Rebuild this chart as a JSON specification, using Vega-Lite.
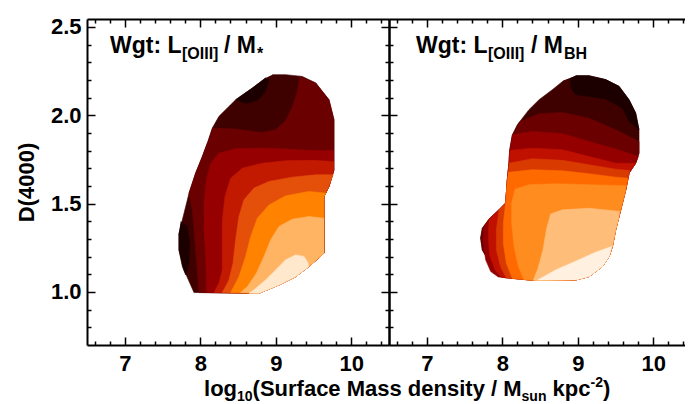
{
"$schema":"https://vega.github.io/schema/vega-lite/v6.json",
"padding":{"left":15,"top":15,"right":0,"bottom":0},
"background":"white",
"bounds":"flush",
"spacing":0,
"config":{"view":{"stroke":null},"axis":{"labelFont":"Liberation Sans","labelFontWeight":"bold","labelFontSize":22,"labelColor":"black","titleFont":"Liberation Sans","titleFontWeight":"bold","titleFontSize":22,"titleColor":"black","grid":false,"tickColor":"black","tickWidth":1.5,"domainColor":"black","domainWidth":2,"labelFlush":false,"labelOverlap":false}},
"resolve":{"scale":{"x":"independent","y":"independent","fill":"independent","stroke":"independent"}},
"hconcat":[
{
"width":302,"height":326,
"resolve":{"axis":{"x":"independent","y":"independent"}},
"layer":[
{"data":{"values":[
{"p":0,"x":8.955,"y":2.230},{"p":0,"x":9.131,"y":2.230},{"p":0,"x":9.352,"y":2.220},{"p":0,"x":9.529,"y":2.183},{"p":0,"x":9.705,"y":2.088},{"p":0,"x":9.771,"y":1.975},{"p":0,"x":9.771,"y":1.824},{"p":0,"x":9.771,"y":1.692},{"p":0,"x":9.705,"y":1.597},{"p":0,"x":9.639,"y":1.541},{"p":0,"x":9.639,"y":1.220},{"p":0,"x":9.440,"y":1.144},{"p":0,"x":9.264,"y":1.087},{"p":0,"x":9.043,"y":1.040},{"p":0,"x":8.778,"y":0.993},{"p":0,"x":7.917,"y":0.997},{"p":0,"x":7.785,"y":1.125},{"p":0,"x":7.718,"y":1.238},{"p":0,"x":7.718,"y":1.333},{"p":0,"x":7.785,"y":1.446},{"p":0,"x":7.851,"y":1.559},{"p":0,"x":7.939,"y":1.673},{"p":0,"x":8.028,"y":1.767},{"p":0,"x":8.094,"y":1.843},{"p":0,"x":8.160,"y":1.928},{"p":0,"x":8.248,"y":1.994},{"p":0,"x":8.469,"y":2.088},{"p":0,"x":8.690,"y":2.154},{"p":0,"x":8.866,"y":2.211},
{"p":1,"x":8.469,"y":2.088},{"p":1,"x":8.690,"y":2.154},{"p":1,"x":8.866,"y":2.211},{"p":1,"x":8.911,"y":2.202},{"p":1,"x":8.866,"y":2.135},{"p":1,"x":8.756,"y":2.084},{"p":1,"x":8.601,"y":2.066},
{"p":2,"x":7.741,"y":1.399},{"p":2,"x":7.829,"y":1.371},{"p":2,"x":7.860,"y":1.276},{"p":2,"x":7.851,"y":1.163},{"p":2,"x":7.807,"y":1.097},{"p":2,"x":7.763,"y":1.144},{"p":2,"x":7.718,"y":1.238},{"p":2,"x":7.718,"y":1.333},
{"p":3,"x":8.160,"y":1.928},{"p":3,"x":8.469,"y":1.922},{"p":3,"x":8.822,"y":1.903},{"p":3,"x":8.999,"y":1.918},{"p":3,"x":9.131,"y":1.971},{"p":3,"x":9.220,"y":2.050},{"p":3,"x":9.286,"y":2.135},{"p":3,"x":9.317,"y":2.220},{"p":3,"x":9.529,"y":2.183},{"p":3,"x":9.705,"y":2.088},{"p":3,"x":9.771,"y":1.975},{"p":3,"x":9.771,"y":1.824},{"p":3,"x":9.771,"y":1.692},{"p":3,"x":9.705,"y":1.597},{"p":3,"x":9.639,"y":1.541},{"p":3,"x":9.639,"y":1.220},{"p":3,"x":9.440,"y":1.144},{"p":3,"x":9.264,"y":1.087},{"p":3,"x":9.043,"y":1.040},{"p":3,"x":8.778,"y":0.993},{"p":3,"x":7.983,"y":0.997},{"p":3,"x":7.961,"y":1.125},{"p":3,"x":7.939,"y":1.238},{"p":3,"x":7.917,"y":1.352},{"p":3,"x":7.895,"y":1.465},{"p":3,"x":7.851,"y":1.559},{"p":3,"x":7.939,"y":1.673},{"p":3,"x":8.028,"y":1.767},{"p":3,"x":8.094,"y":1.843},
{"p":4,"x":9.771,"y":1.801},{"p":4,"x":9.484,"y":1.801},{"p":4,"x":9.131,"y":1.809},{"p":4,"x":8.822,"y":1.814},{"p":4,"x":8.469,"y":1.811},{"p":4,"x":8.248,"y":1.786},{"p":4,"x":8.138,"y":1.729},{"p":4,"x":8.081,"y":1.635},{"p":4,"x":8.050,"y":1.503},{"p":4,"x":8.050,"y":1.352},{"p":4,"x":8.072,"y":1.201},{"p":4,"x":8.081,"y":1.087},{"p":4,"x":8.081,"y":0.997},{"p":4,"x":8.778,"y":0.993},{"p":4,"x":9.043,"y":1.040},{"p":4,"x":9.264,"y":1.087},{"p":4,"x":9.440,"y":1.144},{"p":4,"x":9.639,"y":1.220},{"p":4,"x":9.639,"y":1.541},{"p":4,"x":9.705,"y":1.597},{"p":4,"x":9.771,"y":1.692},
{"p":5,"x":9.771,"y":1.739},{"p":5,"x":9.484,"y":1.745},{"p":5,"x":9.131,"y":1.743},{"p":5,"x":8.822,"y":1.729},{"p":5,"x":8.557,"y":1.701},{"p":5,"x":8.403,"y":1.644},{"p":5,"x":8.328,"y":1.541},{"p":5,"x":8.292,"y":1.408},{"p":5,"x":8.292,"y":1.257},{"p":5,"x":8.292,"y":1.125},{"p":5,"x":8.248,"y":1.050},{"p":5,"x":8.182,"y":0.997},{"p":5,"x":8.778,"y":0.993},{"p":5,"x":9.043,"y":1.040},{"p":5,"x":9.264,"y":1.087},{"p":5,"x":9.440,"y":1.144},{"p":5,"x":9.639,"y":1.220},{"p":5,"x":9.639,"y":1.541},{"p":5,"x":9.705,"y":1.597},{"p":5,"x":9.771,"y":1.692},
{"p":6,"x":9.763,"y":1.663},{"p":6,"x":9.529,"y":1.663},{"p":6,"x":9.220,"y":1.650},{"p":6,"x":8.911,"y":1.626},{"p":6,"x":8.712,"y":1.588},{"p":6,"x":8.579,"y":1.522},{"p":6,"x":8.513,"y":1.427},{"p":6,"x":8.469,"y":1.295},{"p":6,"x":8.434,"y":1.163},{"p":6,"x":8.381,"y":1.068},{"p":6,"x":8.292,"y":0.997},{"p":6,"x":8.778,"y":0.993},{"p":6,"x":9.043,"y":1.040},{"p":6,"x":9.264,"y":1.087},{"p":6,"x":9.440,"y":1.144},{"p":6,"x":9.639,"y":1.220},{"p":6,"x":9.639,"y":1.541},{"p":6,"x":9.705,"y":1.597},
{"p":7,"x":9.670,"y":1.559},{"p":7,"x":9.440,"y":1.569},{"p":7,"x":9.131,"y":1.544},{"p":7,"x":8.911,"y":1.493},{"p":7,"x":8.756,"y":1.418},{"p":7,"x":8.668,"y":1.314},{"p":7,"x":8.601,"y":1.201},{"p":7,"x":8.513,"y":1.087},{"p":7,"x":8.403,"y":0.997},{"p":7,"x":8.778,"y":0.993},{"p":7,"x":9.043,"y":1.040},{"p":7,"x":9.264,"y":1.087},{"p":7,"x":9.440,"y":1.144},{"p":7,"x":9.639,"y":1.220},{"p":7,"x":9.639,"y":1.541},
{"p":8,"x":9.639,"y":1.418},{"p":8,"x":9.440,"y":1.427},{"p":8,"x":9.220,"y":1.412},{"p":8,"x":9.043,"y":1.371},{"p":8,"x":8.933,"y":1.295},{"p":8,"x":8.844,"y":1.201},{"p":8,"x":8.743,"y":1.106},{"p":8,"x":8.624,"y":1.031},{"p":8,"x":8.535,"y":0.997},{"p":8,"x":8.778,"y":0.993},{"p":8,"x":9.043,"y":1.040},{"p":8,"x":9.264,"y":1.087},{"p":8,"x":9.440,"y":1.144},{"p":8,"x":9.639,"y":1.220},
{"p":9,"x":9.431,"y":1.163},{"p":9,"x":9.374,"y":1.201},{"p":9,"x":9.264,"y":1.210},{"p":9,"x":9.131,"y":1.182},{"p":9,"x":8.999,"y":1.125},{"p":9,"x":8.866,"y":1.068},{"p":9,"x":8.712,"y":1.012},{"p":9,"x":8.646,"y":0.993},{"p":9,"x":8.778,"y":0.993},{"p":9,"x":9.043,"y":1.040},{"p":9,"x":9.264,"y":1.087},{"p":9,"x":9.440,"y":1.144}
]},
"mark":{"type":"line","strokeWidth":0.6,"interpolate":"linear"},
"encoding":{
"x":{"field":"x","type":"quantitative","scale":{"domain":[6.5,10.5],"nice":false,"zero":false},"axis":{"orient":"bottom","values":[7,8,9,10],"ticks":false,"domain":true,"labelPadding":8,"title":null}},
"y":{"field":"y","type":"quantitative","scale":{"domain":[0.7,2.545],"nice":false,"zero":false},"axis":{"orient":"left","values":[1,1.5,2,2.5],"format":".1f","ticks":false,"domain":true,"labelPadding":6,"title":"D(4000)","titlePadding":12}},
"fill":{"field":"p","type":"nominal","scale":{"domain":[0,1,2,3,4,5,6,7,8,9],"range":["#3f0000","#1c0000","#1c0000","#6a0000","#960000","#c21a00","#e4500a","#ff8200","#ffb464","#ffe8cc"]},"legend":null},
"stroke":{"field":"p","type":"nominal","scale":{"domain":[0,1,2,3,4,5,6,7,8,9],"range":["#3f0000","#1c0000","#1c0000","#6a0000","#960000","#c21a00","#e4500a","#ff8200","#ffb464","#ffe8cc"]},"legend":null},
"detail":{"field":"p"},
"order":{"value":null}
}},
{"data":{"values":[{"x":8,"y":1.5}]},"mark":{"type":"point","opacity":0},
"encoding":{"x":{"field":"x","type":"quantitative","axis":{"orient":"bottom","values":[7,8,9,10],"labels":false,"domain":false,"tickSize":-8,"title":null}},
"y":{"field":"y","type":"quantitative","axis":{"orient":"left","values":[1,1.5,2,2.5],"labels":false,"domain":false,"tickSize":-8,"title":null}}}},
{"data":{"values":[{"x":8,"y":1.5}]},"mark":{"type":"point","opacity":0},
"encoding":{"x":{"field":"x","type":"quantitative","axis":{"orient":"bottom","values":[6.6,6.8,7.2,7.4,7.6,7.8,8.2,8.4,8.6,8.8,9.2,9.4,9.6,9.8,10.2,10.4],"labels":false,"domain":false,"tickSize":-4,"title":null}},
"y":{"field":"y","type":"quantitative","axis":{"orient":"left","values":[0.8,0.9,1.1,1.2,1.3,1.4,1.6,1.7,1.8,1.9,2.1,2.2,2.3,2.4],"labels":false,"domain":false,"tickSize":-4,"title":null}}}},
{"data":{"values":[{"x":8,"y":1.5}]},"mark":{"type":"point","opacity":0},
"encoding":{"x":{"field":"x","type":"quantitative","axis":{"orient":"top","values":[7,8,9,10],"labels":false,"domain":true,"tickSize":-8,"title":null}},
"y":{"field":"y","type":"quantitative","axis":{"orient":"right","values":[1,1.5,2,2.5],"labels":false,"domain":true,"tickSize":-8,"title":null}}}},
{"data":{"values":[{"x":8,"y":1.5}]},"mark":{"type":"point","opacity":0},
"encoding":{"x":{"field":"x","type":"quantitative","axis":{"orient":"top","values":[6.6,6.8,7.2,7.4,7.6,7.8,8.2,8.4,8.6,8.8,9.2,9.4,9.6,9.8,10.2,10.4],"labels":false,"domain":false,"tickSize":-4,"title":null}},
"y":{"field":"y","type":"quantitative","axis":{"orient":"right","values":[0.8,0.9,1.1,1.2,1.3,1.4,1.6,1.7,1.8,1.9,2.1,2.2,2.3,2.4],"labels":false,"domain":false,"tickSize":-4,"title":null}}}},
{"data":{"values":[{"t":"Wgt: L","x":6.805,"y":2.352},{"t":"/ M","x":8.315,"y":2.352}]},
"mark":{"type":"text","align":"left","baseline":"alphabetic","font":"Liberation Sans","fontWeight":"bold","fontSize":23,"color":"black"},
"encoding":{"x":{"field":"x","type":"quantitative","axis":null},"y":{"field":"y","type":"quantitative","axis":null},"text":{"field":"t"}}},
{"data":{"values":[{"t":"[OIII]","x":7.758,"y":2.32},{"t":"*","x":8.752,"y":2.32}]},
"mark":{"type":"text","align":"left","baseline":"alphabetic","font":"Liberation Sans","fontWeight":"bold","fontSize":16,"color":"black"},
"encoding":{"x":{"field":"x","type":"quantitative","axis":null},"y":{"field":"y","type":"quantitative","axis":null},"text":{"field":"t"}}},
{"data":{"values":[{"t":"log","x":8.050,"y":0.409},{"t":"(Surface Mass density / M","x":8.693,"y":0.409},{"t":"kpc","x":12.667,"y":0.409},{"t":")","x":13.333,"y":0.409}]},
"mark":{"type":"text","align":"left","baseline":"alphabetic","font":"Liberation Sans","fontWeight":"bold","fontSize":22,"color":"black"},
"encoding":{"x":{"field":"x","type":"quantitative","axis":null},"y":{"field":"y","type":"quantitative","axis":null},"text":{"field":"t"}}},
{"data":{"values":[{"t":"10","x":8.487,"y":0.381},{"t":"sun","x":12.256,"y":0.381},{"t":"-2","x":13.169,"y":0.460}]},
"mark":{"type":"text","align":"left","baseline":"alphabetic","font":"Liberation Sans","fontWeight":"bold","fontSize":14,"color":"black"},
"encoding":{"x":{"field":"x","type":"quantitative","axis":null},"y":{"field":"y","type":"quantitative","axis":null},"text":{"field":"t"}}}
]
},
{
"width":296,"height":326,
"resolve":{"axis":{"x":"independent","y":"independent"}},
"layer":[
{"data":{"values":[
{"p":0,"x":8.972,"y":2.224},{"p":0,"x":9.149,"y":2.224},{"p":0,"x":9.370,"y":2.202},{"p":0,"x":9.546,"y":2.164},{"p":0,"x":9.679,"y":2.088},{"p":0,"x":9.767,"y":2.013},{"p":0,"x":9.811,"y":1.918},{"p":0,"x":9.811,"y":1.786},{"p":0,"x":9.767,"y":1.729},{"p":0,"x":9.679,"y":1.673},{"p":0,"x":9.635,"y":1.578},{"p":0,"x":9.591,"y":1.503},{"p":0,"x":9.546,"y":1.427},{"p":0,"x":9.502,"y":1.352},{"p":0,"x":9.458,"y":1.257},{"p":0,"x":9.414,"y":1.201},{"p":0,"x":9.326,"y":1.144},{"p":0,"x":9.149,"y":1.087},{"p":0,"x":8.972,"y":1.068},{"p":0,"x":8.443,"y":1.065},{"p":0,"x":8.001,"y":1.083},{"p":0,"x":7.913,"y":1.106},{"p":0,"x":7.825,"y":1.172},{"p":0,"x":7.736,"y":1.238},{"p":0,"x":7.714,"y":1.305},{"p":0,"x":7.736,"y":1.361},{"p":0,"x":7.825,"y":1.412},{"p":0,"x":7.957,"y":1.465},{"p":0,"x":8.045,"y":1.503},{"p":0,"x":8.067,"y":1.635},{"p":0,"x":8.089,"y":1.729},{"p":0,"x":8.098,"y":1.801},{"p":0,"x":8.134,"y":1.890},{"p":0,"x":8.200,"y":1.947},{"p":0,"x":8.354,"y":2.032},{"p":0,"x":8.487,"y":2.088},{"p":0,"x":8.663,"y":2.145},{"p":0,"x":8.818,"y":2.198},
{"p":1,"x":8.972,"y":2.224},{"p":1,"x":9.149,"y":2.224},{"p":1,"x":9.370,"y":2.202},{"p":1,"x":9.546,"y":2.164},{"p":1,"x":9.679,"y":2.088},{"p":1,"x":9.767,"y":2.013},{"p":1,"x":9.811,"y":1.918},{"p":1,"x":9.679,"y":1.966},{"p":1,"x":9.591,"y":2.041},{"p":1,"x":9.370,"y":2.092},{"p":1,"x":9.149,"y":2.107},{"p":1,"x":8.972,"y":2.117},{"p":1,"x":8.906,"y":2.154},{"p":1,"x":8.906,"y":2.211},
{"p":2,"x":8.222,"y":1.960},{"p":2,"x":8.487,"y":2.009},{"p":2,"x":8.796,"y":2.016},{"p":2,"x":9.149,"y":1.984},{"p":2,"x":9.502,"y":1.918},{"p":2,"x":9.811,"y":1.852},{"p":2,"x":9.811,"y":1.786},{"p":2,"x":9.767,"y":1.729},{"p":2,"x":9.679,"y":1.673},{"p":2,"x":9.635,"y":1.578},{"p":2,"x":9.591,"y":1.503},{"p":2,"x":9.546,"y":1.427},{"p":2,"x":9.502,"y":1.352},{"p":2,"x":9.458,"y":1.257},{"p":2,"x":9.414,"y":1.201},{"p":2,"x":9.326,"y":1.144},{"p":2,"x":9.149,"y":1.087},{"p":2,"x":8.972,"y":1.068},{"p":2,"x":8.443,"y":1.065},{"p":2,"x":8.001,"y":1.083},{"p":2,"x":7.913,"y":1.106},{"p":2,"x":7.825,"y":1.172},{"p":2,"x":7.736,"y":1.238},{"p":2,"x":7.714,"y":1.305},{"p":2,"x":7.736,"y":1.361},{"p":2,"x":7.825,"y":1.412},{"p":2,"x":7.957,"y":1.465},{"p":2,"x":8.045,"y":1.503},{"p":2,"x":8.067,"y":1.635},{"p":2,"x":8.089,"y":1.729},{"p":2,"x":8.098,"y":1.801},{"p":2,"x":8.134,"y":1.890},
{"p":3,"x":8.134,"y":1.890},{"p":3,"x":8.398,"y":1.909},{"p":3,"x":8.796,"y":1.896},{"p":3,"x":9.149,"y":1.852},{"p":3,"x":9.502,"y":1.809},{"p":3,"x":9.802,"y":1.767},{"p":3,"x":9.767,"y":1.729},{"p":3,"x":9.679,"y":1.673},{"p":3,"x":9.635,"y":1.578},{"p":3,"x":9.591,"y":1.503},{"p":3,"x":9.546,"y":1.427},{"p":3,"x":9.502,"y":1.352},{"p":3,"x":9.458,"y":1.257},{"p":3,"x":9.414,"y":1.201},{"p":3,"x":9.326,"y":1.144},{"p":3,"x":9.149,"y":1.087},{"p":3,"x":8.972,"y":1.068},{"p":3,"x":8.443,"y":1.065},{"p":3,"x":8.001,"y":1.083},{"p":3,"x":7.948,"y":1.085},{"p":3,"x":7.847,"y":1.116},{"p":3,"x":7.780,"y":1.182},{"p":3,"x":7.749,"y":1.276},{"p":3,"x":7.758,"y":1.371},{"p":3,"x":7.825,"y":1.412},{"p":3,"x":7.957,"y":1.465},{"p":3,"x":8.045,"y":1.503},{"p":3,"x":8.067,"y":1.635},{"p":3,"x":8.089,"y":1.729},{"p":3,"x":8.098,"y":1.801},
{"p":4,"x":8.098,"y":1.801},{"p":4,"x":8.398,"y":1.814},{"p":4,"x":8.796,"y":1.805},{"p":4,"x":9.149,"y":1.767},{"p":4,"x":9.502,"y":1.729},{"p":4,"x":9.767,"y":1.729},{"p":4,"x":9.679,"y":1.673},{"p":4,"x":9.635,"y":1.578},{"p":4,"x":9.591,"y":1.503},{"p":4,"x":9.546,"y":1.427},{"p":4,"x":9.502,"y":1.352},{"p":4,"x":9.458,"y":1.257},{"p":4,"x":9.414,"y":1.201},{"p":4,"x":9.326,"y":1.144},{"p":4,"x":9.149,"y":1.087},{"p":4,"x":8.972,"y":1.068},{"p":4,"x":8.443,"y":1.065},{"p":4,"x":7.992,"y":1.083},{"p":4,"x":7.904,"y":1.125},{"p":4,"x":7.833,"y":1.210},{"p":4,"x":7.816,"y":1.314},{"p":4,"x":7.825,"y":1.412},{"p":4,"x":7.957,"y":1.465},{"p":4,"x":8.045,"y":1.503},{"p":4,"x":8.067,"y":1.635},{"p":4,"x":8.089,"y":1.729},
{"p":5,"x":8.089,"y":1.729},{"p":5,"x":8.398,"y":1.754},{"p":5,"x":8.796,"y":1.745},{"p":5,"x":9.149,"y":1.720},{"p":5,"x":9.502,"y":1.695},{"p":5,"x":9.688,"y":1.688},{"p":5,"x":9.635,"y":1.578},{"p":5,"x":9.591,"y":1.503},{"p":5,"x":9.546,"y":1.427},{"p":5,"x":9.502,"y":1.352},{"p":5,"x":9.458,"y":1.257},{"p":5,"x":9.414,"y":1.201},{"p":5,"x":9.326,"y":1.144},{"p":5,"x":9.149,"y":1.087},{"p":5,"x":8.972,"y":1.068},{"p":5,"x":8.443,"y":1.065},{"p":5,"x":8.054,"y":1.080},{"p":5,"x":7.979,"y":1.140},{"p":5,"x":7.922,"y":1.238},{"p":5,"x":7.922,"y":1.352},{"p":5,"x":7.957,"y":1.465},{"p":5,"x":8.045,"y":1.503},{"p":5,"x":8.067,"y":1.635},
{"p":6,"x":8.076,"y":1.677},{"p":6,"x":8.398,"y":1.692},{"p":6,"x":8.796,"y":1.686},{"p":6,"x":9.149,"y":1.669},{"p":6,"x":9.502,"y":1.650},{"p":6,"x":9.666,"y":1.644},{"p":6,"x":9.635,"y":1.578},{"p":6,"x":9.591,"y":1.503},{"p":6,"x":9.546,"y":1.427},{"p":6,"x":9.502,"y":1.352},{"p":6,"x":9.458,"y":1.257},{"p":6,"x":9.414,"y":1.201},{"p":6,"x":9.326,"y":1.144},{"p":6,"x":9.149,"y":1.087},{"p":6,"x":8.972,"y":1.068},{"p":6,"x":8.443,"y":1.065},{"p":6,"x":8.134,"y":1.076},{"p":6,"x":8.054,"y":1.163},{"p":6,"x":8.014,"y":1.276},{"p":6,"x":8.014,"y":1.389},{"p":6,"x":8.045,"y":1.503},{"p":6,"x":8.067,"y":1.635},
{"p":7,"x":9.643,"y":1.601},{"p":7,"x":9.149,"y":1.607},{"p":7,"x":8.708,"y":1.612},{"p":7,"x":8.354,"y":1.607},{"p":7,"x":8.169,"y":1.582},{"p":7,"x":8.125,"y":1.503},{"p":7,"x":8.125,"y":1.389},{"p":7,"x":8.156,"y":1.257},{"p":7,"x":8.213,"y":1.144},{"p":7,"x":8.288,"y":1.070},{"p":7,"x":8.443,"y":1.065},{"p":7,"x":8.972,"y":1.068},{"p":7,"x":9.149,"y":1.087},{"p":7,"x":9.326,"y":1.144},{"p":7,"x":9.414,"y":1.201},{"p":7,"x":9.458,"y":1.257},{"p":7,"x":9.502,"y":1.352},{"p":7,"x":9.546,"y":1.427},{"p":7,"x":9.591,"y":1.503},{"p":7,"x":9.635,"y":1.578},
{"p":8,"x":9.556,"y":1.456},{"p":8,"x":9.149,"y":1.474},{"p":8,"x":8.796,"y":1.465},{"p":8,"x":8.641,"y":1.442},{"p":8,"x":8.584,"y":1.352},{"p":8,"x":8.540,"y":1.238},{"p":8,"x":8.474,"y":1.135},{"p":8,"x":8.412,"y":1.068},{"p":8,"x":8.443,"y":1.065},{"p":8,"x":8.972,"y":1.068},{"p":8,"x":9.149,"y":1.087},{"p":8,"x":9.326,"y":1.144},{"p":8,"x":9.414,"y":1.201},{"p":8,"x":9.458,"y":1.257},{"p":8,"x":9.502,"y":1.352},{"p":8,"x":9.546,"y":1.427},
{"p":9,"x":8.465,"y":1.067},{"p":9,"x":8.708,"y":1.125},{"p":9,"x":8.972,"y":1.174},{"p":9,"x":9.237,"y":1.225},{"p":9,"x":9.449,"y":1.257},{"p":9,"x":9.414,"y":1.201},{"p":9,"x":9.326,"y":1.144},{"p":9,"x":9.149,"y":1.087},{"p":9,"x":8.972,"y":1.068}
]},
"mark":{"type":"line","strokeWidth":0.6,"interpolate":"linear"},
"encoding":{
"x":{"field":"x","type":"quantitative","scale":{"domain":[6.5,10.42],"nice":false,"zero":false},"axis":{"orient":"bottom","values":[7,8,9,10],"ticks":false,"domain":true,"labelPadding":8,"title":null}},
"y":{"field":"y","type":"quantitative","scale":{"domain":[0.7,2.545],"nice":false,"zero":false},"axis":{"orient":"left","values":[1,1.5,2,2.5],"labels":false,"domain":true,"tickSize":-8,"title":null}},
"fill":{"field":"p","type":"nominal","scale":{"domain":[0,1,2,3,4,5,6,7,8,9],"range":["#3f0000","#1c0000","#6a0000","#940000","#bf1000","#d93a00","#ff6a00","#ff8c1e","#ffbd7a","#fff0e0"]},"legend":null},
"stroke":{"field":"p","type":"nominal","scale":{"domain":[0,1,2,3,4,5,6,7,8,9],"range":["#3f0000","#1c0000","#6a0000","#940000","#bf1000","#d93a00","#ff6a00","#ff8c1e","#ffbd7a","#fff0e0"]},"legend":null},
"detail":{"field":"p"},
"order":{"value":null}
}},
{"data":{"values":[{"x":8,"y":1.5}]},"mark":{"type":"point","opacity":0},
"encoding":{"x":{"field":"x","type":"quantitative","axis":{"orient":"bottom","values":[7,8,9,10],"labels":false,"domain":false,"tickSize":-8,"title":null}},
"y":{"field":"y","type":"quantitative","axis":{"orient":"left","values":[0.8,0.9,1.1,1.2,1.3,1.4,1.6,1.7,1.8,1.9,2.1,2.2,2.3,2.4],"labels":false,"domain":false,"tickSize":-4,"title":null}}}},
{"data":{"values":[{"x":8,"y":1.5}]},"mark":{"type":"point","opacity":0},
"encoding":{"x":{"field":"x","type":"quantitative","axis":{"orient":"bottom","values":[6.6,6.8,7.2,7.4,7.6,7.8,8.2,8.4,8.6,8.8,9.2,9.4,9.6,9.8,10.2,10.4],"labels":false,"domain":false,"tickSize":-4,"title":null}},
"y":{"field":"y","type":"quantitative","axis":null}}},
{"data":{"values":[{"x":8,"y":1.5}]},"mark":{"type":"point","opacity":0},
"encoding":{"x":{"field":"x","type":"quantitative","axis":{"orient":"top","values":[7,8,9,10],"labels":false,"domain":true,"tickSize":-8,"title":null}},
"y":{"field":"y","type":"quantitative","axis":null}}},
{"data":{"values":[{"x":8,"y":1.5}]},"mark":{"type":"point","opacity":0},
"encoding":{"x":{"field":"x","type":"quantitative","axis":{"orient":"top","values":[6.6,6.8,7.2,7.4,7.6,7.8,8.2,8.4,8.6,8.8,9.2,9.4,9.6,9.8,10.2,10.4],"labels":false,"domain":false,"tickSize":-4,"title":null}},
"y":{"field":"y","type":"quantitative","axis":null}}},
{"data":{"values":[{"t":"Wgt: L","x":6.858,"y":2.352},{"t":"/ M","x":8.381,"y":2.352}]},
"mark":{"type":"text","align":"left","baseline":"alphabetic","font":"Liberation Sans","fontWeight":"bold","fontSize":23,"color":"black"},
"encoding":{"x":{"field":"x","type":"quantitative","axis":null},"y":{"field":"y","type":"quantitative","axis":null},"text":{"field":"t"}}},
{"data":{"values":[{"t":"[OIII]","x":7.811,"y":2.32},{"t":"BH","x":8.818,"y":2.32}]},
"mark":{"type":"text","align":"left","baseline":"alphabetic","font":"Liberation Sans","fontWeight":"bold","fontSize":16,"color":"black"},
"encoding":{"x":{"field":"x","type":"quantitative","axis":null},"y":{"field":"y","type":"quantitative","axis":null},"text":{"field":"t"}}}
]
}
]
}
